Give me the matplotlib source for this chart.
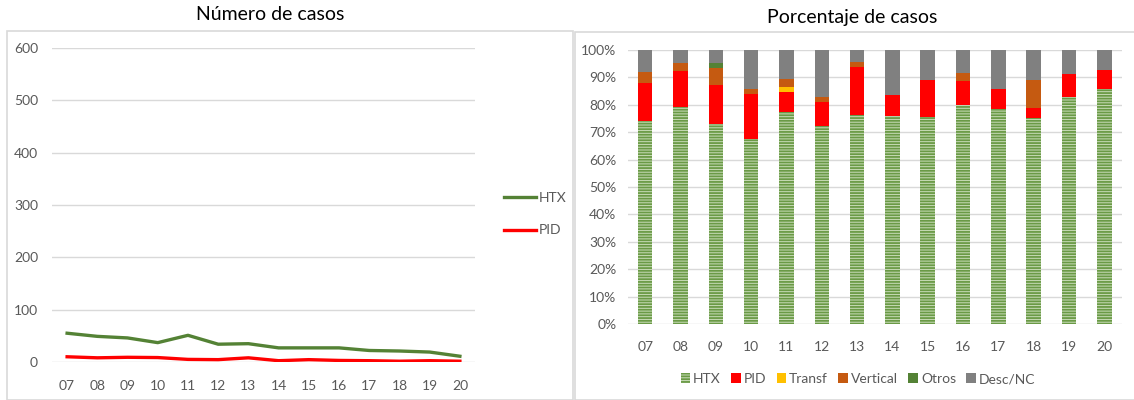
import matplotlib.pyplot as plt
from matplotlib.patches import Rectangle

plt.rcParams['font.family'] = ['Lato', 'DejaVu Sans']
plt.rcParams['hatch.linewidth'] = 1.3

# Data
years = ['07', '08', '09', '10', '11', '12', '13', '14', '15', '16', '17', '18', '19', '20']

# Numero de casos
htx_n = [55, 49, 46, 37, 51, 34, 35, 27, 27, 27, 22, 21, 19, 11]
pid_n = [10, 8, 9, 8.5, 5, 4.5, 8, 2.5, 4.5, 3, 2.5, 1.5, 2.5, 1.5]

# Porcentaje de casos
htx_p = [74.2, 79.3, 72.9, 67.4, 77.3, 72.4, 76.2, 75.8, 75.7, 79.8, 78.6, 75.1, 82.7, 85.6]
pid_p = [13.6, 12.9, 14.4, 16.4, 7.5, 8.5, 17.5, 7.9, 13.5, 8.8, 7.0, 3.6, 8.7, 7.2]
transf_p = [0, 0, 0, 0, 1.7, 0, 0, 0, 0, 0, 0, 0, 0, 0]
vertical_p = [4.2, 3.1, 6.3, 1.8, 2.9, 2.1, 2.0, 0, 0, 2.9, 0, 10.5, 0, 0]
otros_p = [0, 0, 1.7, 0, 0, 0, 0, 0, 0, 0, 0, 0, 0, 0]
desc_p = [100 - a - b - c - d - e for a, b, c, d, e in
          zip(htx_p, pid_p, transf_p, vertical_p, otros_p)]

W, H = 1134, 400
fig = plt.figure(figsize=(W / 100, H / 100), dpi=100)

grid_c = '#d9d9d9'
tick_c = '#595959'

# panel frames
fig.patches.append(Rectangle((7 / W, 0), 566 / W, (H - 31) / H, transform=fig.transFigure,
                             fill=False, edgecolor=grid_c, linewidth=1.2))
fig.patches.append(Rectangle((575 / W, 0), 565 / W, (H - 32) / H, transform=fig.transFigure,
                             fill=False, edgecolor=grid_c, linewidth=1.2))

fig.text(270 / W, 1 - 15 / H, 'Número de casos', ha='center', va='center', fontsize=14)
fig.text(852 / W, 1 - 17 / H, 'Porcentaje de casos', ha='center', va='center', fontsize=14)

# Left chart: lines
ax1 = fig.add_axes([52 / W, 38 / H, 423 / W, 314 / H])
x = range(len(years))
ax1.plot(x, htx_n, color='#548235', linewidth=2.4, label='HTX')
ax1.plot(x, pid_n, color='#ff0000', linewidth=2.4, label='PID')
ax1.set_ylim(0, 600)
ax1.set_xlim(-0.5, 13.5)
ax1.set_yticks(range(0, 601, 100))
ax1.set_xticks(list(x))
ax1.set_xticklabels(years)
ax1.grid(axis='y', color=grid_c, linewidth=1)
ax1.set_axisbelow(True)
for s in ax1.spines.values():
    s.set_visible(False)
ax1.tick_params(length=0, labelsize=10, colors=tick_c)
ax1.tick_params(axis='y', pad=10)
ax1.tick_params(axis='x', pad=13)
ax1.legend(loc='center left', bbox_to_anchor=(1.04, 0.47), frameon=False, fontsize=10,
           handlelength=2.3, handletextpad=0.15, labelspacing=1.45, labelcolor=tick_c)

# Right chart: stacked bars
ax2 = fig.add_axes([627.5 / W, 76 / H, 494.5 / W, 274 / H])
bw = 0.41
ax2.bar(x, htx_p, bw, color='#c9dcb9', edgecolor='#6a9a46', hatch='------', linewidth=0, label='HTX')
bottom = list(htx_p)
series = [(pid_p, '#ff0000', 'PID'), (transf_p, '#ffc000', 'Transf'),
          (vertical_p, '#c55a11', 'Vertical'), (otros_p, '#548235', 'Otros'),
          (desc_p, '#808080', 'Desc/NC')]
for vals, col, lab in series:
    ax2.bar(x, vals, bw, bottom=bottom, color=col, linewidth=0, label=lab)
    bottom = [b + v for b, v in zip(bottom, vals)]
ax2.set_ylim(0, 100)
ax2.set_xlim(-0.5, 13.5)
ax2.set_yticks(range(0, 101, 10))
ax2.set_yticklabels([f'{v}%' for v in range(0, 101, 10)])
ax2.set_xticks(list(x))
ax2.set_xticklabels(years)
ax2.grid(axis='y', color=grid_c, linewidth=1)
ax2.set_axisbelow(True)
for s in ax2.spines.values():
    s.set_visible(False)
ax2.tick_params(length=0, labelsize=10, colors=tick_c)
ax2.tick_params(axis='y', pad=8)
ax2.tick_params(axis='x', pad=12)
handles, labels = ax2.get_legend_handles_labels()
fig.legend(handles, labels, loc='center', bbox_to_anchor=(858 / W, 1 - 379 / H), ncol=6,
           frameon=False, fontsize=10, handlelength=0.7, handleheight=0.7,
           handletextpad=0.2, columnspacing=0.75, labelcolor=tick_c)

fig.savefig('out.png', dpi=100)
